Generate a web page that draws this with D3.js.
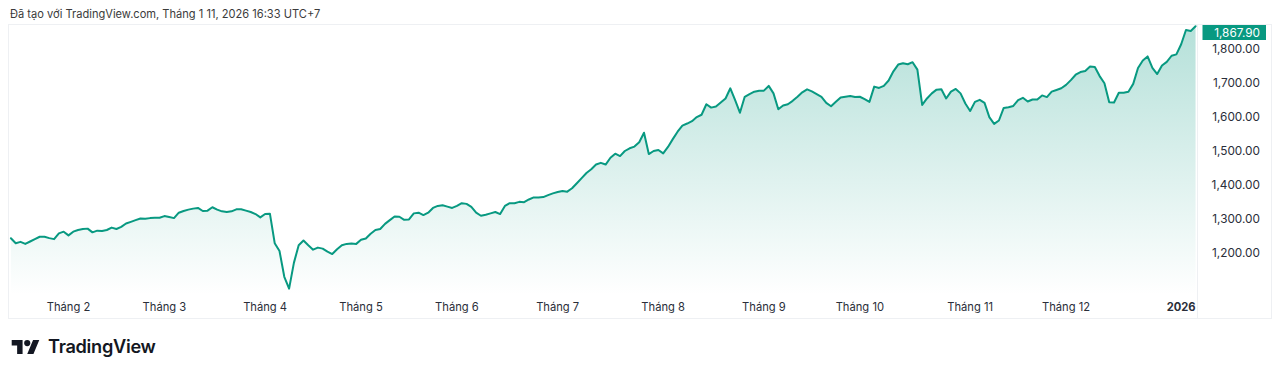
<!DOCTYPE html>
<html>
<head>
<meta charset="utf-8">
<script src="https://cdn.jsdelivr.net/npm/d3@7"></script>
<style>
  html, body { margin: 0; padding: 0; background: #ffffff; }
  svg { display: block; }
  text { font-family: Inter, "Noto Sans", sans-serif; }
</style>
</head>
<body>
<svg id="chart" width="1280" height="374"></svg>
<script>
// ---- data (daily closes, trading-day index) ----
const values = [
  1242.5, 1228, 1232, 1226, 1233, 1240, 1247, 1247, 1243, 1240,
  1257, 1262, 1251, 1262, 1267, 1270, 1271, 1260, 1265, 1264,
  1267, 1274, 1270, 1276, 1286, 1291, 1296, 1301, 1300, 1302,
  1303, 1303, 1308, 1305, 1302, 1318, 1323, 1327, 1330, 1332,
  1323, 1324, 1334, 1327, 1322, 1320, 1322, 1328, 1328, 1324,
  1320, 1314, 1304, 1314, 1315, 1228, 1205, 1129, 1094, 1170,
  1222, 1236, 1222, 1209, 1215, 1212, 1203, 1196, 1210, 1222,
  1226, 1227, 1226, 1238, 1242, 1256, 1267, 1270, 1285, 1296,
  1307, 1306, 1297, 1298, 1316, 1318, 1311, 1318, 1332, 1338,
  1340, 1336, 1332, 1338, 1346, 1344, 1335, 1318, 1309, 1312,
  1316, 1320, 1314, 1338, 1346, 1346, 1350, 1349, 1357, 1363,
  1363, 1364, 1370, 1375, 1379, 1382, 1380, 1390, 1405, 1420,
  1435, 1446, 1460, 1465, 1460, 1480, 1492, 1485, 1500, 1508,
  1513, 1526, 1554, 1491, 1500, 1503, 1493, 1512, 1535, 1557,
  1575, 1581, 1588, 1600, 1607, 1638, 1628, 1631, 1643, 1655,
  1685, 1650, 1613, 1660, 1668, 1675, 1678, 1678, 1692, 1670,
  1623, 1634, 1638, 1648, 1660, 1673, 1682, 1676, 1668, 1660,
  1642, 1632, 1645, 1658, 1660, 1662, 1659, 1660, 1653, 1645,
  1690, 1686, 1692, 1708, 1735, 1755, 1759, 1756, 1762, 1740,
  1636, 1655, 1670, 1681, 1682, 1655, 1675, 1683, 1670, 1640,
  1618, 1645, 1651, 1642, 1600, 1580, 1590, 1627, 1629, 1633,
  1650, 1657, 1646, 1652, 1652, 1664, 1659, 1675, 1680, 1685,
  1695, 1709, 1725, 1733, 1736, 1749, 1748, 1721, 1700, 1644,
  1643, 1672, 1672, 1675, 1698, 1745, 1767, 1779, 1745, 1727,
  1752, 1763, 1781, 1785, 1815, 1857, 1854, 1867.9
];
const monthTickIndex = [12, 32, 53, 73, 93, 114, 136, 157, 177, 200, 220, 244];
const monthTickLabels = ["Tháng 2", "Tháng 3", "Tháng 4", "Tháng 5", "Tháng 6", "Tháng 7",
  "Tháng 8", "Tháng 9", "Tháng 10", "Tháng 11", "Tháng 12", "2026"];
const priceTicks = [1200, 1300, 1400, 1500, 1600, 1700, 1800];
const lastPrice = 1867.90;
const headerText = "Đã tạo với TradingView.com, Tháng 1 11, 2026 16:33 UTC+7";

// ---- layout ----
const paneL = 9, paneR = 1197, paneT = 25, plotB = 295, paneB = 318.5, axisR = 1271;
const lineColor = "#089981";

const svg = d3.select("#chart");

const x = d3.scaleLinear().domain([-0.4, values.length - 0.7]).range([paneL, paneR]);
const y = d3.scaleLinear().domain([1075.2, 1871.7]).range([plotB, paneT]);

// header
svg.append("text").attr("x", 10).attr("y", 17.5)
  .attr("font-size", 11.1).attr("fill", "#3b3b3b").text(headerText);

// pane border
svg.append("rect").attr("x", paneL - 0.5).attr("y", paneT - 0.5)
  .attr("width", axisR - paneL + 1).attr("height", paneB - paneT + 0.5)
  .attr("fill", "none").attr("stroke", "#eef0f3").attr("stroke-width", 1);
svg.append("line").attr("x1", paneR + 0.5).attr("x2", paneR + 0.5)
  .attr("y1", paneT - 0.5).attr("y2", paneB)
  .attr("stroke", "#eef0f3");

// gradient
const defs = svg.append("defs");
const grad = defs.append("linearGradient").attr("id", "areaGrad")
  .attr("gradientUnits", "userSpaceOnUse")
  .attr("x1", 0).attr("x2", 0)
  .attr("y1", y(d3.max(values))).attr("y2", plotB);
grad.append("stop").attr("offset", "0%").attr("stop-color", lineColor).attr("stop-opacity", 0.3);
grad.append("stop").attr("offset", "100%").attr("stop-color", lineColor).attr("stop-opacity", 0.0);

defs.append("clipPath").attr("id", "plotClip").append("rect")
  .attr("x", paneL).attr("y", paneT).attr("width", paneR - paneL).attr("height", plotB - paneT);

const g = svg.append("g").attr("clip-path", "url(#plotClip)");

const area = d3.area().x((d, i) => x(i)).y0(plotB).y1(d => y(d));
const line = d3.line().x((d, i) => x(i)).y(d => y(d));

g.append("path").datum(values).attr("d", area).attr("fill", "url(#areaGrad)");
g.append("path").datum(values).attr("d", line)
  .attr("fill", "none").attr("stroke", lineColor).attr("stroke-width", 2)
  .attr("stroke-linejoin", "round").attr("stroke-linecap", "round");

// time axis
const xAxis = svg.append("g");
monthTickIndex.forEach((idx, k) => {
  xAxis.append("text").attr("x", x(idx)).attr("y", 310.5)
    .attr("text-anchor", "middle").attr("font-size", 11.2)
    .attr("font-weight", monthTickLabels[k] === "2026" ? 700 : 400)
    .attr("fill", "#2a2e39").text(monthTickLabels[k]);
});

// price axis
const fmt = d3.format(",.2f");
const yAxis = svg.append("g");
priceTicks.forEach(v => {
  yAxis.append("text").attr("x", 1260).attr("y", y(v)).attr("dy", "0.35em")
    .attr("text-anchor", "end").attr("font-size", 11.8).attr("fill", "#2a2e39").text(fmt(v));
});

// last price label
const boxH = 15;
const boxY = Math.max(paneT, y(lastPrice) - boxH / 2);
svg.append("rect").attr("x", paneR + 5.5).attr("y", boxY)
  .attr("width", 63.5).attr("height", boxH).attr("fill", lineColor);
svg.append("text").attr("x", 1260).attr("y", boxY + boxH / 2).attr("dy", "0.35em")
  .attr("text-anchor", "end").attr("font-size", 11.8).attr("fill", "#ffffff").text(fmt(lastPrice));

// logo
const logo = svg.append("g").attr("transform", "translate(11.7,336.9) scale(0.777)").attr("fill", "#131722");
logo.append("path").attr("d", "M14 22H7V11H0V4h14v18zM28 22h-8l7.5-18h8L28 22z");
logo.append("circle").attr("cx", 20).attr("cy", 8).attr("r", 4);
svg.append("text").attr("x", 48).attr("y", 352.5).attr("font-size", 18.2)
  .attr("font-weight", 600).attr("fill", "#131722").attr("letter-spacing", "-0.3").text("TradingView");
</script>
</body>
</html>
